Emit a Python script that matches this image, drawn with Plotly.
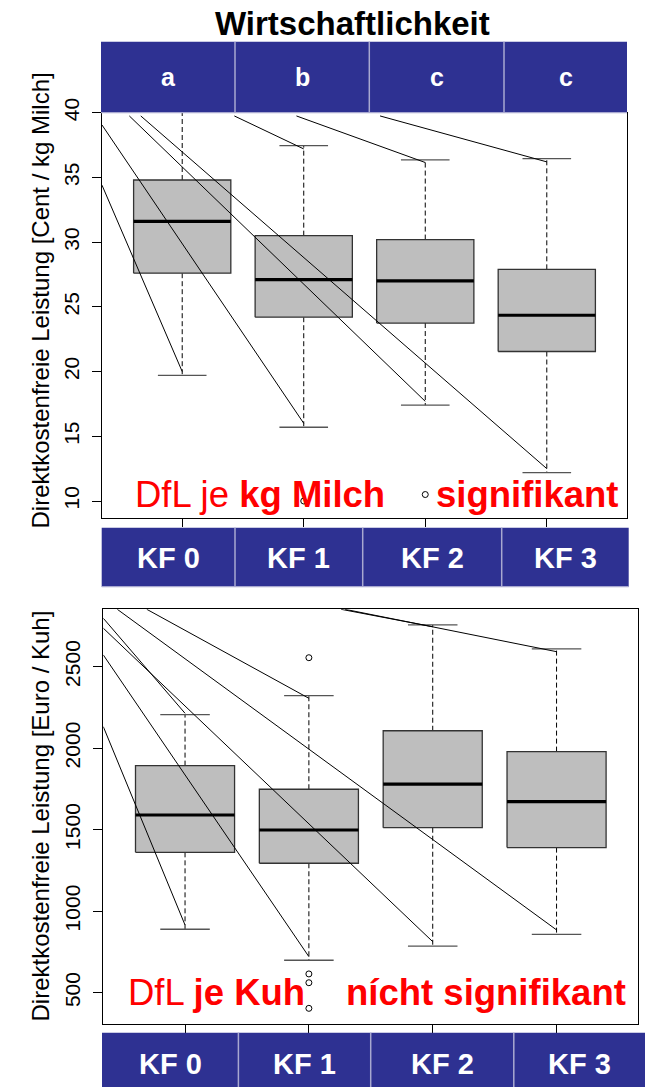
import plotly.graph_objects as go

W, H = 645, 1087

groups = ["KF 0", "KF 1", "KF 2", "KF 3"]
sig_letters = ["a", "b", "c", "c"]

# ---- top panel: Direktkostenfreie Leistung [Cent / kg Milch]
milch_lower = [19.7, 15.7, 17.4, 12.2]
milch_q1 = [27.6, 24.2, 23.75, 21.55]
milch_median = [31.6, 27.1, 27.0, 24.35]
milch_q3 = [34.8, 30.5, 30.2, 27.9]
milch_upper = [42.0, 37.45, 36.35, 36.45]
milch_out_x = [2, 3]
milch_out_y = [10.0, 10.5]
# overlay connector lines (start / end in data units)
milch_line_x0 = [0.34, 0.34, 0.565, 0.659, 1.429, 1.94, 2.628]
milch_line_y0 = [34.4, 39.05, 39.75, 39.75, 39.75, 39.75, 39.75]
milch_line_x1 = [1, 2, 3, 4, 2, 3, 4]
milch_line_y1 = [20.0, 16.0, 17.7, 12.5, 37.2, 36.15, 36.2]

# ---- bottom panel: Direktkostenfreie Leistung [Euro / Kuh]
kuh_lower = [889, 699, 786, 858]
kuh_q1 = [1361, 1294, 1512, 1390]
kuh_median = [1590, 1498, 1780, 1672]
kuh_q3 = [1893, 1748, 2107, 1979]
kuh_upper = [2206, 2322, 2756, 2609]
kuh_out_x = [2, 2, 2, 2]
kuh_out_y = [2555, 615, 561, 404]
kuh_line_x0 = [0.34, 0.34, 0.34, 0.34, 0.453, 0.691, 2.26, 2.292]
kuh_line_y0 = [2132, 2572, 2736, 2797, 2852, 2852, 2852, 2852]
kuh_line_x1 = [1, 2, 3, 1, 4, 2, 3, 4]
kuh_line_y1 = [915, 721, 813, 2214, 885, 2306, 2745, 2592]

milch_ticks = [10, 15, 20, 25, 30, 35, 40]
kuh_ticks = [500, 1000, 1500, 2000, 2500]

FONT = "Liberation Sans, Arial, sans-serif"
BLUE = "#2E3192"
SEP = "#A8A8D0"


def px_x(p):
    return p / W


def px_y(p):
    return 1 - p / H


fig = go.Figure()


def add_panel(xa, ya, lower, q1, med, q3, upper, ox, oy, lx0, ly0, lx1, ly1):
    bx, by, mx, my, wx, wy, cx, cy = [], [], [], [], [], [], [], []
    for i in range(len(groups)):
        x = i + 1
        bx += [x - 0.4, x + 0.4, x + 0.4, x - 0.4, x - 0.4, None]
        by += [q1[i], q1[i], q3[i], q3[i], q1[i], None]
        mx += [x - 0.4, x + 0.4, None]
        my += [med[i], med[i], None]
        wx += [x, x, None, x, x, None]
        wy += [q3[i], upper[i], None, q1[i], lower[i], None]
        cx += [x - 0.2, x + 0.2, None, x - 0.2, x + 0.2, None]
        cy += [upper[i], upper[i], None, lower[i], lower[i], None]
    common = dict(xaxis=xa, yaxis=ya, showlegend=False, hoverinfo="skip")
    fig.add_trace(go.Scatter(x=wx, y=wy, mode="lines",
                             line=dict(color="black", width=1, dash="5px,3px"), **common))
    fig.add_trace(go.Scatter(x=cx, y=cy, mode="lines",
                             line=dict(color="#555555", width=1.3), **common))
    fig.add_trace(go.Scatter(x=bx, y=by, mode="lines", fill="toself",
                             fillcolor="#BEBEBE",
                             line=dict(color="#333333", width=1.3), **common))
    fig.add_trace(go.Scatter(x=mx, y=my, mode="lines",
                             line=dict(color="black", width=3.2), **common))
    fig.add_trace(go.Scatter(x=ox, y=oy, mode="markers",
                             marker=dict(symbol="circle-open", size=6, color="black",
                                         line=dict(width=1, color="black")), **common))
    sx, sy = [], []
    for a, b, c, d in zip(lx0, ly0, lx1, ly1):
        sx += [a, c, None]
        sy += [b, d, None]
    fig.add_trace(go.Scatter(x=sx, y=sy, mode="lines",
                             line=dict(color="black", width=1), **common))


add_panel("x", "y", milch_lower, milch_q1, milch_median, milch_q3, milch_upper,
          milch_out_x, milch_out_y, milch_line_x0, milch_line_y0, milch_line_x1, milch_line_y1)
add_panel("x2", "y2", kuh_lower, kuh_q1, kuh_median, kuh_q3, kuh_upper,
          kuh_out_x, kuh_out_y, kuh_line_x0, kuh_line_y0, kuh_line_x1, kuh_line_y1)

xcommon = dict(range=[0.34, 4.66], tickvals=[1, 2, 3, 4], showticklabels=False,
               ticks="outside", ticklen=8, tickcolor="black", tickwidth=1,
               showline=True, mirror=True, linecolor="black", linewidth=1,
               showgrid=False, zeroline=False, fixedrange=True, automargin=False)
ycommon = dict(ticks="outside", ticklen=9, tickcolor="black", tickwidth=1,
               tickangle=-90, tickfont=dict(family=FONT, size=21, color="black"),
               showline=True, mirror=True, linecolor="black", linewidth=1,
               showgrid=False, zeroline=False, fixedrange=True, ticklabelstandoff=5,
               automargin=False)

fig.update_layout(
    template="none",
    width=W, height=H, margin=dict(l=0, r=0, t=0, b=0, pad=0), autosize=False,
    paper_bgcolor="white", plot_bgcolor="white",
    font=dict(family=FONT, color="black"),
    xaxis=dict(domain=[px_x(102), px_x(627)], anchor="y", **xcommon),
    yaxis=dict(domain=[px_y(517.7), px_y(112.7)], anchor="x",
               range=[8.71, 40], tickvals=milch_ticks, **ycommon),
    xaxis2=dict(domain=[px_x(103.3), px_x(638.3)], anchor="y2", **xcommon),
    yaxis2=dict(domain=[px_y(1024.3), px_y(609.3)], anchor="x2",
                range=[306, 2852], tickvals=kuh_ticks, **ycommon),
)

shapes = []
annotations = []


def band(edges, y0, y1, labels, size, label_y):
    for i in range(len(labels)):
        shapes.append(dict(type="rect", xref="paper", yref="paper",
                           x0=px_x(edges[i]), x1=px_x(edges[i + 1]),
                           y0=px_y(y1), y1=px_y(y0), fillcolor=BLUE,
                           line=dict(width=0), layer="above"))
        annotations.append(dict(xref="paper", yref="paper",
                                x=px_x((edges[i] + edges[i + 1]) / 2), y=px_y(label_y),
                                text="<b>%s</b>" % labels[i], showarrow=False,
                                xanchor="center", yanchor="middle",
                                font=dict(family=FONT, size=size, color="white")))
    for e in edges[1:-1]:
        shapes.append(dict(type="line", xref="paper", yref="paper",
                           x0=px_x(e), x1=px_x(e), y0=px_y(y1), y1=px_y(y0),
                           line=dict(color=SEP, width=1.5), layer="above"))
    shapes.append(dict(type="line", xref="paper", yref="paper",
                       x0=px_x(edges[0]), x1=px_x(edges[-1]), y0=px_y(y1), y1=px_y(y1),
                       line=dict(color=SEP, width=1.2), layer="above"))


band([101, 235, 369.3, 504, 627], 41.7, 112.7, sig_letters, 25, 77)
band([101.7, 235, 362.7, 501.7, 628.7], 527.7, 586.7, groups, 29, 558)
band([102, 238.4, 370.7, 513.8, 645], 1032.7, 1090, groups, 29, 1064)

annotations += [
    dict(xref="paper", yref="paper", x=px_x(352), y=px_y(23),
         text="<b>Wirtschaftlichkeit</b>", showarrow=False, xanchor="center",
         yanchor="middle", font=dict(family=FONT, size=33, color="black")),
    dict(xref="paper", yref="paper", x=px_x(40), y=px_y(300.5),
         text="Direktkostenfreie Leistung [Cent / kg Milch]", showarrow=False,
         textangle=-90, xanchor="center", yanchor="middle",
         font=dict(family=FONT, size=24, color="black")),
    dict(xref="paper", yref="paper", x=px_x(40), y=px_y(816.5),
         text="Direktkostenfreie Leistung [Euro / Kuh]", showarrow=False,
         textangle=-90, xanchor="center", yanchor="middle",
         font=dict(family=FONT, size=24, color="black")),
    dict(xref="paper", yref="paper", x=px_x(133), y=px_y(494),
         text="DfL je <b>kg Milch</b>", showarrow=False, xanchor="left",
         yanchor="middle", font=dict(family=FONT, size=36.5, color="#FF0000")),
    dict(xref="paper", yref="paper", x=px_x(621), y=px_y(494),
         text="<b>signifikant</b>", showarrow=False, xanchor="right",
         yanchor="middle", font=dict(family=FONT, size=36.5, color="#FF0000")),
    dict(xref="paper", yref="paper", x=px_x(126), y=px_y(992.5),
         text="DfL <b>je Kuh</b>", showarrow=False, xanchor="left",
         yanchor="middle", font=dict(family=FONT, size=36.5, color="#FF0000")),
    dict(xref="paper", yref="paper", x=px_x(628), y=px_y(992.5),
         text="<b>nícht signifikant</b>", showarrow=False, xanchor="right",
         yanchor="middle", font=dict(family=FONT, size=36.5, color="#FF0000")),
]

fig.update_layout(shapes=shapes, annotations=annotations)
fig.write_html("out.html")
